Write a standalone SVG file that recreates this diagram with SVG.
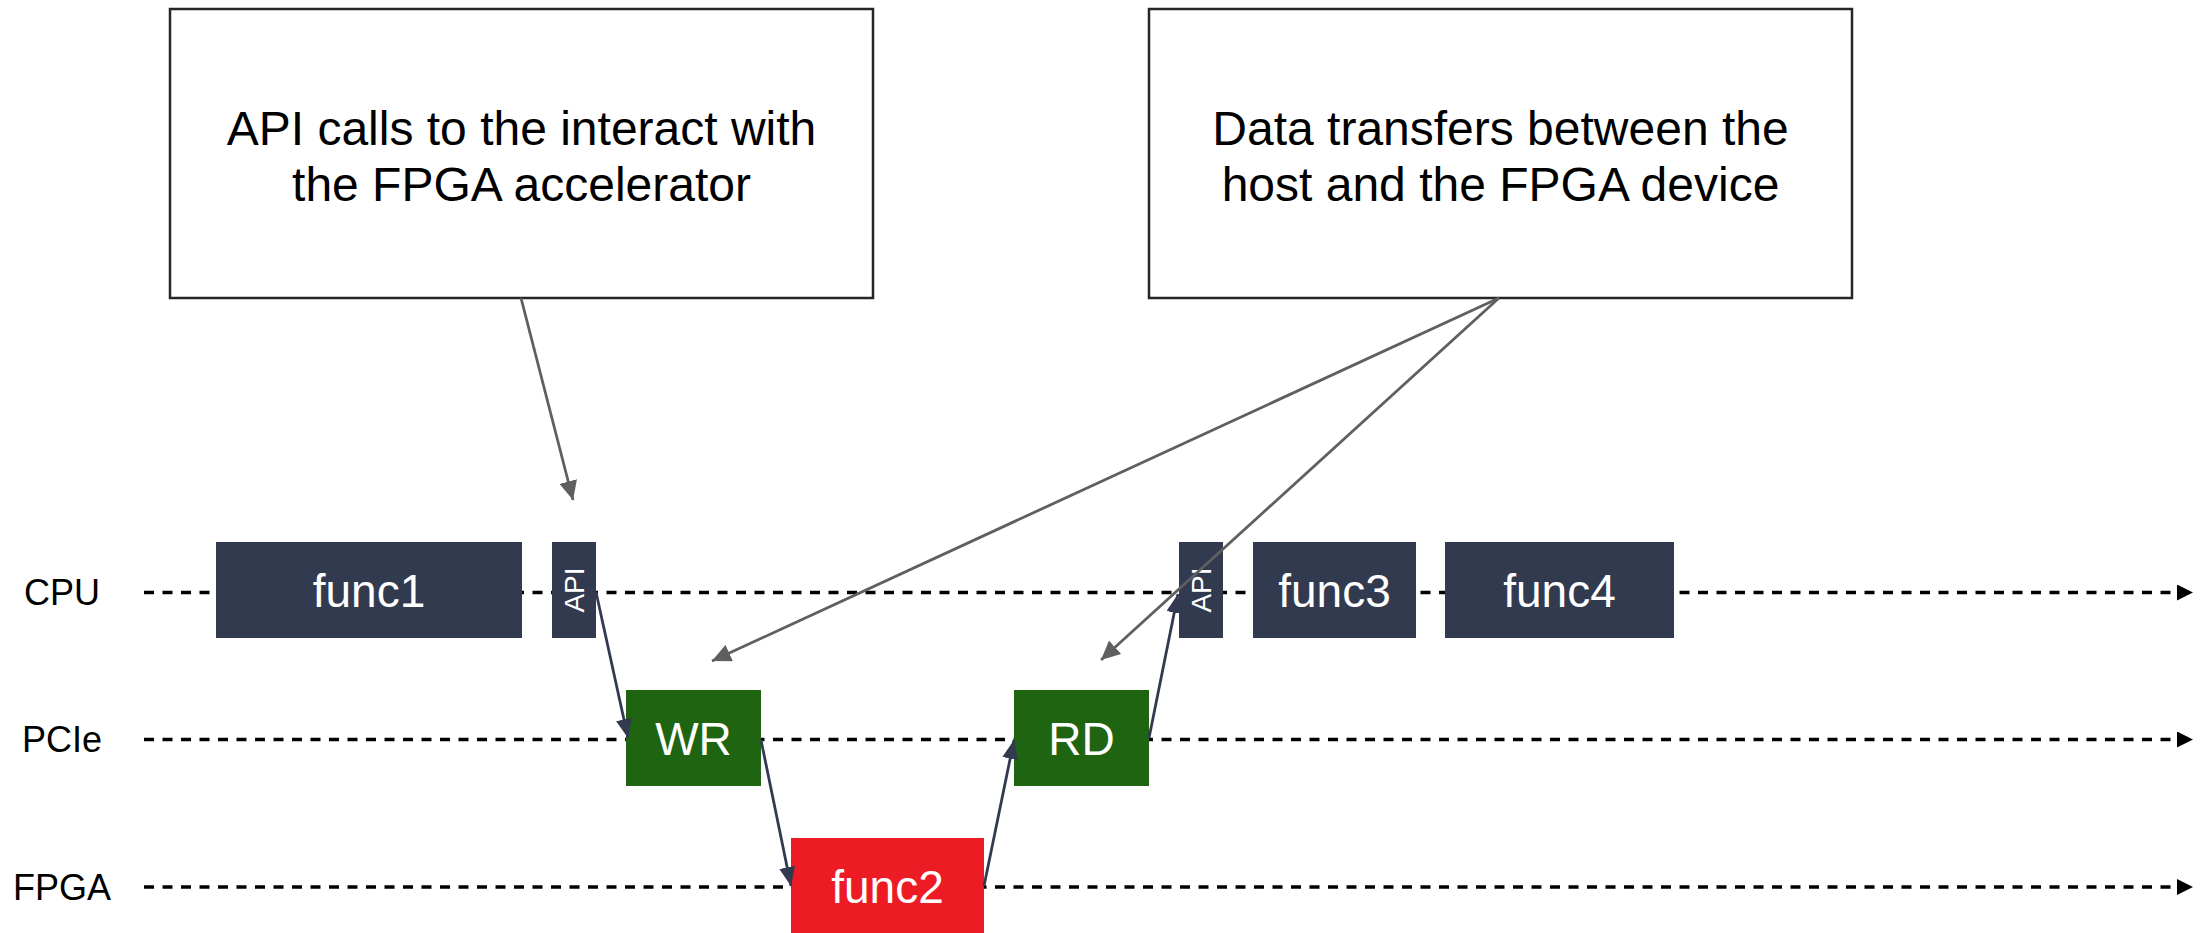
<svg xmlns="http://www.w3.org/2000/svg" width="2203" height="933" viewBox="0 0 2203 933">
<defs>
<style>
.lane{stroke:#000;stroke-width:3.3;stroke-dasharray:10 8.5;fill:none}
.lbl{font-family:"Liberation Sans",Arial,sans-serif;font-size:36px;fill:#000;text-anchor:middle}
.note rect{fill:#fff;stroke:#262626;stroke-width:2.5}
.note text{font-family:"Liberation Sans",Arial,sans-serif;font-size:48px;fill:#000;text-anchor:middle}
.cpu rect{fill:#323A4F}
.pcie rect{fill:#1F6411}
.fpga rect{fill:#ED1C24}
.node text{font-family:"Liberation Sans",Arial,sans-serif;font-size:46px;fill:#fff;text-anchor:middle}
.node text.api{font-size:28px}
.gray{stroke:#5F5F5F;stroke-width:2.8;fill:none;marker-end:url(#ag)}
.dark{stroke:#323A4F;stroke-width:2.8;fill:none;marker-end:url(#ad)}
</style>
<marker id="al" markerUnits="userSpaceOnUse" markerWidth="16" markerHeight="16" refX="16" refY="8" orient="auto"><path d="M0,0 L16,8 L0,16 z" fill="#000"/></marker>
<marker id="ag" markerUnits="userSpaceOnUse" markerWidth="19" markerHeight="18" refX="19" refY="9" orient="auto"><path d="M0,0 L19,9 L0,18 z" fill="#5F5F5F"/></marker>
<marker id="ad" markerUnits="userSpaceOnUse" markerWidth="19" markerHeight="16" refX="19" refY="8" orient="auto"><path d="M0,0 L19,8 L0,16 z" fill="#323A4F"/></marker>
</defs>
<rect width="2203" height="933" fill="#fff"/>
<g id="lanes">
<line class="lane" x1="144" y1="592.5" x2="2193" y2="592.5" marker-end="url(#al)"/>
<line class="lane" x1="144" y1="739.5" x2="2193" y2="739.5" marker-end="url(#al)"/>
<line class="lane" x1="144" y1="887" x2="2193" y2="887" marker-end="url(#al)"/>
<text class="lbl" x="62" y="605">CPU</text>
<text class="lbl" x="62" y="752">PCIe</text>
<text class="lbl" x="62" y="900">FPGA</text>
</g>
<g id="note-api" class="note">
<rect x="170" y="9" width="703" height="289"/>
<text x="521.5" y="145">API calls to the interact with</text>
<text x="521.5" y="201">the FPGA accelerator</text>
</g>
<g id="note-data" class="note">
<rect x="1149" y="9" width="703" height="289"/>
<text x="1500.5" y="145">Data transfers between the</text>
<text x="1500.5" y="201">host and the FPGA device</text>
</g>
<g id="func1" class="node cpu"><rect x="216" y="542" width="306" height="96"/><text x="369" y="607">func1</text></g>
<g id="api1" class="node cpu"><rect x="552" y="542" width="44" height="96"/><text class="api" transform="translate(574,590) rotate(-90)" x="0" y="10">API</text></g>
<g id="api2" class="node cpu"><rect x="1179" y="542" width="44" height="96"/><text class="api" transform="translate(1201,590) rotate(-90)" x="0" y="10">API</text></g>
<g id="func3" class="node cpu"><rect x="1253" y="542" width="163" height="96"/><text x="1334.5" y="607">func3</text></g>
<g id="func4" class="node cpu"><rect x="1445" y="542" width="229" height="96"/><text x="1559.5" y="607">func4</text></g>
<g id="wr" class="node pcie"><rect x="626" y="690" width="135" height="96"/><text x="693.5" y="755">WR</text></g>
<g id="rd" class="node pcie"><rect x="1014" y="690" width="135" height="96"/><text x="1081.5" y="755">RD</text></g>
<g id="func2" class="node fpga"><rect x="791" y="838" width="193" height="96"/><text x="887.5" y="903">func2</text></g>
<g id="connectors">
<line class="gray" x1="521" y1="298" x2="573" y2="500"/>
<line class="gray" x1="1499" y1="298" x2="712" y2="661"/>
<line class="gray" x1="1499" y1="298" x2="1101" y2="660"/>
<line class="dark" x1="596" y1="592" x2="628" y2="738"/>
<line class="dark" x1="761" y1="740" x2="791" y2="886"/>
<line class="dark" x1="984" y1="886" x2="1014" y2="740"/>
<line class="dark" x1="1149" y1="738" x2="1178" y2="594"/>
</g>
</svg>
